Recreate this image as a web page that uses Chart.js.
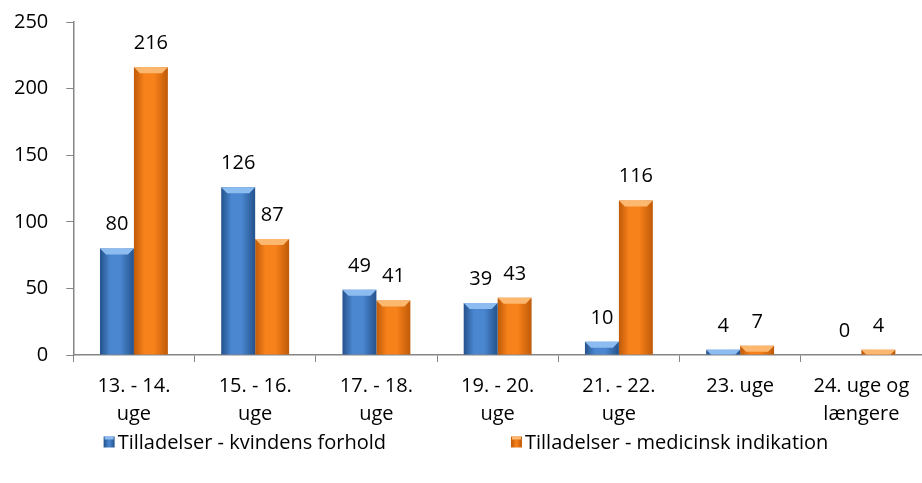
<!DOCTYPE html>
<html>
<head>
<meta charset="utf-8">
<script src="https://cdn.jsdelivr.net/npm/chart.js@4"></script>
<style>
  html, body { margin: 0; padding: 0; background: #fff; }
  #wrap { width: 922px; height: 483px; }
</style>
</head>
<body>
<div id="wrap"><canvas id="chart"></canvas></div>
<script>
const categories = [
    ['13. - 14.', 'uge'],
    ['15. - 16.', 'uge'],
    ['17. - 18.', 'uge'],
    ['19. - 20.', 'uge'],
    ['21. - 22.', 'uge'],
    '23. uge',
    ['24. uge og', 'længere']
];
const kvindensForhold = [80, 126, 49, 39, 10, 4, 0];
const medicinskIndikation = [216, 87, 41, 43, 116, 7, 4];
const seriesNames = ['Tilladelser - kvindens forhold', 'Tilladelser - medicinsk indikation'];
const yTicks = [0, 50, 100, 150, 200, 250];

const FONT = "'Open Sans', 'Noto Sans', sans-serif";
const FONT_SIZE = 20;
const CAT_PCT = 0.56;
const palette = [
    { dark: '#24528c', mid: '#4a87d0', light: '#8dbcf0' },
    { dark: '#bf5a08', mid: '#f7811a', light: '#fdb870' }
];

// horizontal shading on each bar (dark edges, light middle)
function barFill(context) {
    const c = palette[context.datasetIndex];
    const xs = context.chart.scales.x;
    if (!xs || !xs.width || context.dataIndex === undefined) return c.mid;
    const bw = xs.width / categories.length * CAT_PCT / 2;
    const center = xs.getPixelForValue(context.dataIndex) + (context.datasetIndex === 0 ? -bw / 2 : bw / 2);
    const g = context.chart.ctx.createLinearGradient(center - bw / 2, 0, center + bw / 2, 0);
    g.addColorStop(0, c.dark);
    g.addColorStop(0.3, c.mid);
    g.addColorStop(0.6, c.mid);
    g.addColorStop(1, c.dark);
    return g;
}

// bevel at the top of bars, value labels and the legend row
const barExtras = {
    id: 'barExtras',
    afterDatasetsDraw(chart) {
        const ctx = chart.ctx;
        chart.data.datasets.forEach((ds, di) => {
            const meta = chart.getDatasetMeta(di);
            meta.data.forEach((bar, i) => {
                const left = bar.x - bar.width / 2, right = bar.x + bar.width / 2;
                const h = bar.base - bar.y;
                const bev = Math.min(6, h);
                if (h > 0) {
                    ctx.save();
                    ctx.fillStyle = palette[di].light;
                    ctx.beginPath();
                    ctx.moveTo(left, bar.y);
                    ctx.lineTo(right, bar.y);
                    ctx.lineTo(right - bev, bar.y + bev);
                    ctx.lineTo(left + bev, bar.y + bev);
                    ctx.closePath();
                    ctx.fill();
                    ctx.restore();
                }
                ctx.save();
                ctx.fillStyle = '#000';
                ctx.font = FONT_SIZE + 'px ' + FONT;
                ctx.textAlign = 'center';
                ctx.textBaseline = 'alphabetic';
                ctx.fillText(String(ds.data[i]), bar.x, bar.y - 18);
                ctx.restore();
            });
        });
    },
    afterDraw(chart) {
        const ctx = chart.ctx;
        ctx.save();
        ctx.font = FONT_SIZE + 'px ' + FONT;
        const box = 11, textGap = 3, itemGap = 125;
        const widths = seriesNames.map(t => box + textGap + ctx.measureText(t).width);
        const total = widths[0] + itemGap + widths[1];
        let x = chart.width / 2 + 5 - total / 2;
        const y = 442;
        seriesNames.forEach((name, i) => {
            const c = palette[i];
            const g = ctx.createLinearGradient(x, 0, x + box, 0);
            g.addColorStop(0, c.dark);
            g.addColorStop(0.5, c.mid);
            g.addColorStop(1, c.dark);
            ctx.fillStyle = g;
            ctx.fillRect(x, y - box / 2, box, box);
            ctx.fillStyle = c.light;
            ctx.fillRect(x + 1, y - box / 2, box - 2, 3);
            ctx.fillStyle = '#000';
            ctx.textAlign = 'left';
            ctx.textBaseline = 'middle';
            ctx.fillText(name, x + box + textGap, y + 1);
            x += widths[i] + itemGap;
        });
        ctx.restore();
    }
};

new Chart(document.getElementById('chart'), {
    type: 'bar',
    data: {
        labels: categories,
        datasets: [
            { label: seriesNames[0], data: kvindensForhold, backgroundColor: barFill },
            { label: seriesNames[1], data: medicinskIndikation, backgroundColor: barFill }
        ]
    },
    options: {
        responsive: true,
        maintainAspectRatio: false,
        animation: false,
        layout: { padding: { top: 22, right: 0, bottom: 45, left: -4 } },
        datasets: { bar: { categoryPercentage: CAT_PCT, barPercentage: 1 } },
        plugins: {
            tooltip: { enabled: false },
            legend: { display: false }
        },
        scales: {
            x: {
                grid: { drawOnChartArea: false, color: '#868686', tickLength: 7, offset: true },
                border: { color: '#868686', width: 1.5 },
                ticks: { color: '#000', font: { family: FONT, size: FONT_SIZE, lineHeight: 1.4 }, maxRotation: 0, padding: 10 }
            },
            y: {
                min: 0,
                max: 250,
                afterBuildTicks(scale) { scale.ticks = yTicks.map(v => ({ value: v })); },
                afterFit(scale) { scale.paddingTop = 0; scale.paddingBottom = 0; },
                grid: { drawOnChartArea: false, color: '#868686', tickLength: 7 },
                border: { color: '#868686', width: 1.5 },
                ticks: { color: '#000', font: { family: FONT, size: FONT_SIZE }, padding: 18 }
            }
        }
    },
    plugins: [barExtras]
});
</script>
</body>
</html>
